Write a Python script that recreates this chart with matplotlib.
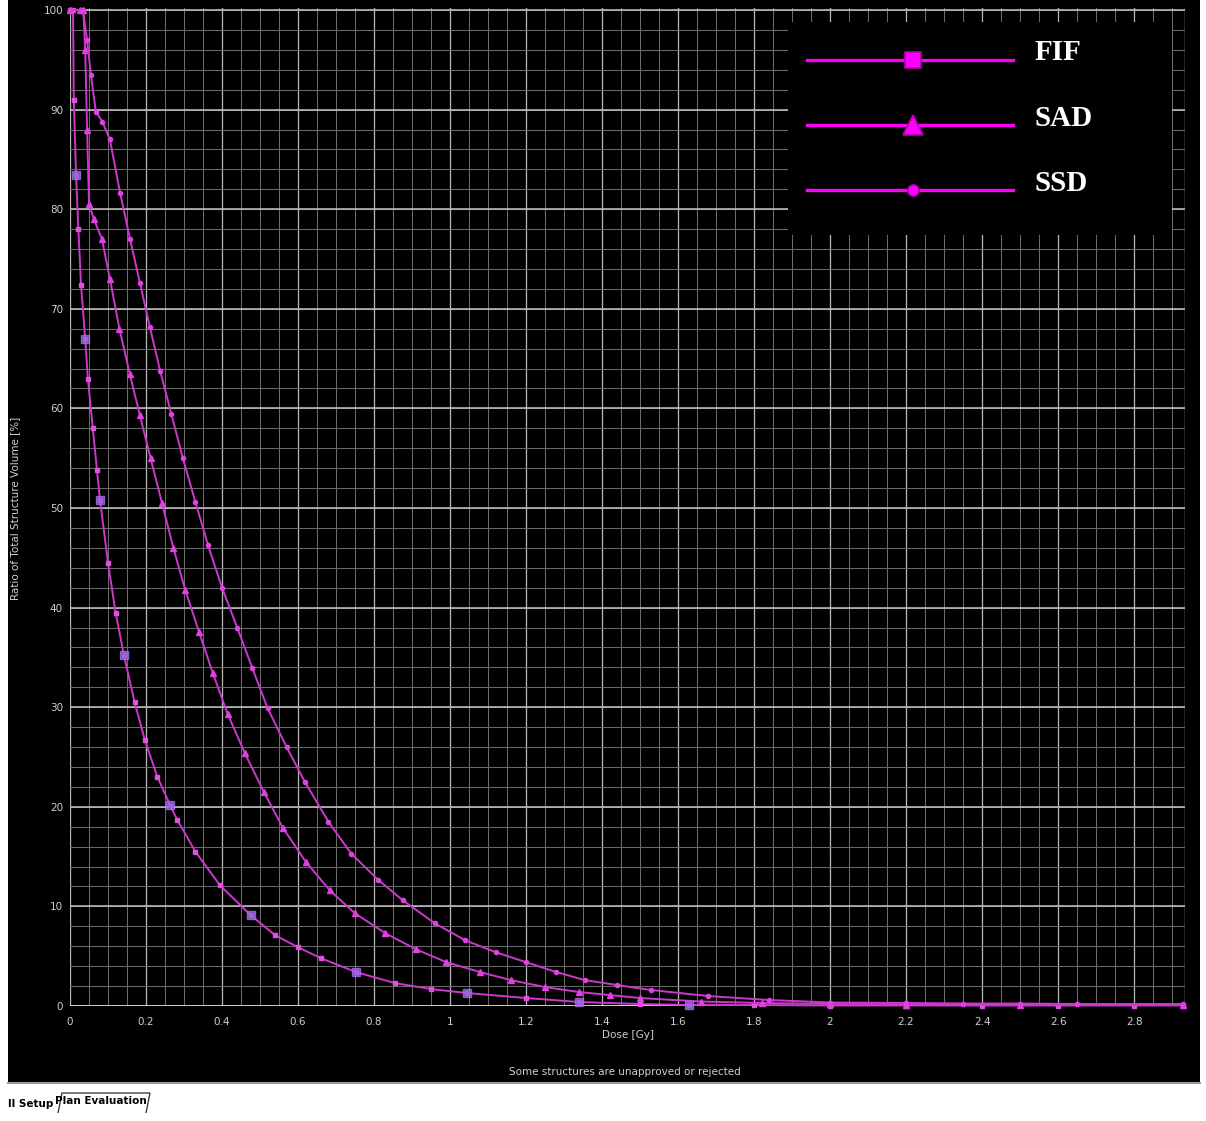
import matplotlib
matplotlib.use("Agg")
import matplotlib.pyplot as plt
from matplotlib.patches import Rectangle, Polygon
from matplotlib.lines import Line2D
import numpy as np

# ---------------- data ----------------
fif_dose = [0.0, 0.008, 0.010, 0.016, 0.022, 0.029, 0.040, 0.047, 0.060, 0.071, 0.079,
            0.100, 0.120, 0.142, 0.170, 0.197, 0.230, 0.263, 0.282, 0.330, 0.395, 0.476,
            0.540, 0.600, 0.660, 0.753, 0.855, 0.950, 1.045, 1.200, 1.340, 1.500, 1.630,
            1.800, 2.000, 2.200, 2.400, 2.600, 2.800, 2.930]
fif_vol = [100, 100, 91, 83.4, 78, 72.4, 67, 63, 58, 53.8, 50.8,
           44.5, 39.5, 35.2, 30.5, 26.7, 23.0, 20.2, 18.7, 15.5, 12.1, 9.1,
           7.1, 5.9, 4.8, 3.4, 2.3, 1.7, 1.3, 0.8, 0.4, 0.2, 0.1,
           0.1, 0.05, 0.05, 0.05, 0.05, 0.05, 0.05]
fif_big = [3, 6, 10, 13, 17, 21, 25, 28, 30, 32]

sad_dose = [0.0, 0.025, 0.035, 0.040, 0.045, 0.050, 0.063, 0.084, 0.105, 0.130, 0.157,
            0.184, 0.212, 0.242, 0.272, 0.303, 0.340, 0.376, 0.415, 0.460, 0.510, 0.560,
            0.620, 0.684, 0.750, 0.830, 0.910, 0.990, 1.080, 1.160, 1.250, 1.340, 1.420,
            1.500, 1.660, 1.820, 2.000, 2.200, 2.500, 2.930]
sad_vol = [100, 100, 100, 96, 88, 80.5, 79, 77, 73, 68, 63.5,
           59.3, 55, 50.5, 46, 41.8, 37.5, 33.4, 29.3, 25.4, 21.5, 17.9,
           14.5, 11.6, 9.3, 7.3, 5.7, 4.4, 3.4, 2.6, 1.9, 1.4, 1.1,
           0.8, 0.45, 0.3, 0.2, 0.15, 0.15, 0.1]

ssd_dose = [0.0, 0.034, 0.045, 0.055, 0.068, 0.085, 0.105, 0.132, 0.158, 0.184, 0.210,
            0.237, 0.267, 0.297, 0.330, 0.363, 0.400, 0.440, 0.480, 0.520, 0.570, 0.618,
            0.680, 0.740, 0.810, 0.876, 0.960, 1.040, 1.120, 1.200, 1.280, 1.355, 1.440,
            1.530, 1.680, 1.840, 2.000, 2.200, 2.350, 2.500, 2.650, 2.930]
ssd_vol = [100, 100, 97, 93.5, 89.8, 88.8, 87, 81.6, 77, 72.6, 68.2,
           63.8, 59.4, 55, 50.6, 46.3, 42, 38, 33.9, 29.9, 26, 22.5,
           18.5, 15.3, 12.7, 10.6, 8.3, 6.6, 5.4, 4.4, 3.4, 2.6, 2.1,
           1.6, 1.0, 0.6, 0.35, 0.3, 0.25, 0.25, 0.2, 0.2]

series_names = ["FIF", "SAD", "SSD"]
x_ticks = [0, 0.2, 0.4, 0.6, 0.8, 1, 1.2, 1.4, 1.6, 1.8, 2, 2.2, 2.4, 2.6, 2.8]
x_tick_labels = ["0", "0.2", "0.4", "0.6", "0.8", "1", "1.2", "1.4", "1.6", "1.8",
                 "2", "2.2", "2.4", "2.6", "2.8"]
y_ticks = [0, 10, 20, 30, 40, 50, 60, 70, 80, 90, 100]
y_tick_labels = [str(v) for v in y_ticks]

# ---------------- figure ----------------
W, H = 1206, 1121
fig = plt.figure(figsize=(W / 100, H / 100), dpi=100)
fig.patch.set_facecolor("white")

def fx(px):
    return px / W

def fy(py):
    return 1 - py / H

# black screen area (behind the axes)
fig.patches.append(Rectangle((fx(8), fy(1082)), fx(1200) - fx(8), fy(0) - fy(1082),
                             transform=fig.transFigure, facecolor="black",
                             edgecolor="none", zorder=-5))
fig.add_artist(Line2D([fx(8), fx(1200)], [fy(1083), fy(1083)], color="#9a9a9a", lw=1.5))

ax = fig.add_axes([fx(70), fy(1006), fx(1185) - fx(70), fy(8) - fy(1006)])
ax.set_facecolor("black")
ax.set_xlim(0, 2.934)
ax.set_ylim(0, 100.2)
for s in ax.spines.values():
    s.set_visible(False)

# grid
for xv in np.arange(0, 2.934, 0.05):
    ax.axvline(xv, color="#6a6a6a", lw=0.75, zorder=1)
for xv in x_ticks:
    ax.axvline(xv, color="#b8b8b8", lw=0.9, zorder=1)
ax.axvline(2.934, color="#b8b8b8", lw=1.0, zorder=1)
for yv in np.arange(0, 100.1, 2):
    ax.axhline(yv, color="#6a6a6a", lw=0.75, zorder=1)
for yv in y_ticks:
    ax.axhline(yv, color="#c4c4c4", lw=1.1, zorder=1)
ax.axhline(0, color="#dcdcdc", lw=1.8, zorder=2)

curve_col = "#cc38cc"
ax.plot(fif_dose, fif_vol, color=curve_col, lw=1.4, marker="s", ms=2.5,
        mfc="#e050e0", mec="#e050e0", zorder=4, clip_on=False)
ax.plot([fif_dose[i] for i in fif_big], [fif_vol[i] for i in fif_big], ls="none",
        marker="s", ms=6, mfc="#9068e0", mec="#b070f0", alpha=0.75, zorder=5,
        clip_on=False)
ax.plot(sad_dose, sad_vol, color=curve_col, lw=1.4, marker="^", ms=3.8,
        mfc="#e040e0", mec="#e040e0", zorder=4, clip_on=False)
ax.plot(ssd_dose, ssd_vol, color=curve_col, lw=1.4, marker="o", ms=3,
        mfc="#e040e0", mec="#e040e0", zorder=4, clip_on=False)

ax.set_xticks(x_ticks)
ax.set_xticklabels(x_tick_labels)
ax.set_yticks(y_ticks)
ax.set_yticklabels(y_tick_labels)
ax.tick_params(axis="both", length=0, colors="#d0d0d0", labelsize=7.5)
ax.tick_params(axis="x", pad=8)
ax.tick_params(axis="y", pad=5)

fig.text(fx(628), fy(1035), "Dose [Gy]", color="#d0d0d0", fontsize=7.5,
         ha="center", va="center")
fig.text(fx(15), fy(508), "Ratio of Total Structure Volume [%]", color="#d0d0d0",
         fontsize=7.5, rotation=90, ha="center", va="center")
fig.text(fx(625), fy(1072), "Some structures are unapproved or rejected",
         color="#d0d0d0", fontsize=7.5, ha="center", va="center")

# legend box
fig.patches.append(Rectangle((fx(788), fy(235)), fx(1172) - fx(788), fy(22) - fy(235),
                             transform=fig.transFigure, facecolor="black",
                             edgecolor="none", zorder=6))
leg_markers = ["s", "^", "o"]
leg_ms = [11, 15, 8]
leg_y = [60, 125, 190]
for name, mk, ms, py in zip(series_names, leg_markers, leg_ms, leg_y):
    fig.add_artist(Line2D([fx(807), fx(1013)], [fy(py), fy(py)], color="#ff00ff",
                          lw=2.4, zorder=7))
    fig.add_artist(Line2D([fx(913)], [fy(py)], marker=mk, ms=ms, color="#ff00ff",
                          mfc="#ff00ff", mec="#b000b0", mew=1.2, ls="none", zorder=8))
    fig.text(fx(1035), fy(py - 7), name, color="white", fontsize=21, fontweight="bold",
             family="Liberation Serif", ha="left", va="center", zorder=9)

# bottom tabs
fig.text(fx(8), fy(1104), "ll Setup", color="black", fontsize=7.5, ha="left",
         va="center", fontweight="bold")
fig.add_artist(Polygon([(fx(58), fy(1113)), (fx(62), fy(1093)), (fx(150), fy(1093)),
                        (fx(146), fy(1113))], closed=False, fill=False,
                       edgecolor="#404040", lw=1.0, transform=fig.transFigure))
fig.text(fx(101), fy(1101), "Plan Evaluation", color="black", fontsize=7.5,
         ha="center", va="center", fontweight="bold")

fig.savefig("out.png", dpi=100, facecolor=fig.get_facecolor())
